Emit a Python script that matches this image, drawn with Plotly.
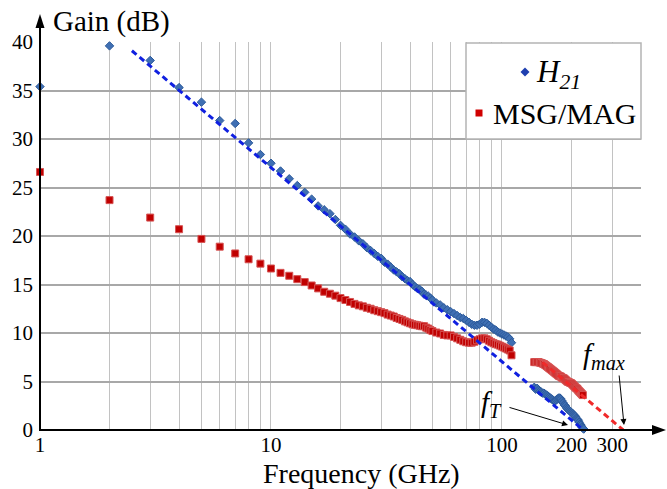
import math
import plotly.graph_objects as go

# ---- measured data -------------------------------------------------------
# Low-frequency sweep (GHz)
freq_low = list(range(1, 51)) + list(range(52, 111, 2))

h21_low = [35.4, 39.6, 38.1, 35.3, 33.8, 31.9, 31.6, 29.6, 28.4, 27.5,
           26.7, 25.9, 25.2, 24.5, 23.8, 23.1, 22.7, 22.3, 21.7, 21.1,
           20.7, 20.2, 19.9, 19.5, 19.2, 18.8, 18.5, 18.2, 17.9, 17.7,
           17.3, 17.1, 16.8, 16.5, 16.3, 16.1, 15.8, 15.6, 15.4, 15.3,
           15.0, 14.8, 14.6, 14.5, 14.3, 14.0, 13.9, 13.8, 13.6, 13.4,
           13.1, 12.9, 12.6, 12.4, 12.2, 12.0, 11.8, 11.6, 11.5, 11.3,
           11.1, 10.9, 10.8, 10.8, 10.9, 11.1, 11.1, 11.0, 10.8, 10.6,
           10.4, 10.3, 10.1, 10.0, 9.9, 9.8, 9.7, 9.6, 9.4, 9.0]

msg_low = [26.6, 23.7, 21.9, 20.7, 19.7, 18.9, 18.2, 17.6, 17.15, 16.65,
           16.2, 15.9, 15.55, 15.25, 14.9, 14.6, 14.25, 14.05, 13.85, 13.6,
           13.4, 13.2, 13.0, 12.85, 12.75, 12.6, 12.5, 12.35, 12.25, 12.15,
           12.05, 11.9, 11.8, 11.7, 11.55, 11.45, 11.35, 11.2, 11.1, 11.0,
           10.9, 10.85, 10.8, 10.75, 10.7, 10.7, 10.55, 10.45, 10.3, 10.2,
           10.05, 9.95, 9.8, 9.75, 9.75, 9.6, 9.45, 9.3, 9.15, 9.05,
           9.0, 9.0, 9.1, 9.25, 9.35, 9.45, 9.45, 9.35, 9.2, 9.05,
           8.95, 8.85, 8.8, 8.7, 8.6, 8.5, 8.4, 8.3, 8.2, 7.7]

# High-frequency sweep (GHz)
freq_high = list(range(138, 227, 2))

h21_high = [4.4, 4.2, 4.3, 4.1, 4.0, 3.9, 3.8, 3.8, 3.7, 3.6,
            3.5, 3.4, 3.3, 3.2, 3.1, 3.0, 3.0, 3.1, 3.2, 3.3,
            3.3, 3.2, 3.0, 2.8, 2.6, 2.5, 2.3, 2.2, 2.1, 2.0,
            1.9, 1.8, 1.7, 1.6, 1.5, 1.4, 1.2, 1.1, 1.0, 0.8,
            0.6, 0.5, 0.3, 0.2, 0.1]

msg_high = [7.0, 7.0, 7.0, 7.0, 6.95, 6.9, 6.85, 6.8, 6.7, 6.6,
            6.5, 6.4, 6.3, 6.2, 6.1, 6.0, 5.9, 5.8, 5.7, 5.6,
            5.55, 5.5, 5.4, 5.35, 5.3, 5.2, 5.1, 5.0, 4.95, 4.9,
            4.85, 4.8, 4.7, 4.6, 4.5, 4.4, 4.3, 4.25, 4.1, 4.0,
            3.9, 3.8, 3.7, 3.6]

# -20 dB/decade extrapolations to fT and fmax
h21_fit_f = [2.5, 225]
h21_fit_g = [39.1, 0.0]
msg_fit_f = [150, 335]
msg_fit_g = [6.98, 0.0]

x_tick_vals = [1, 10, 100, 200, 300]
x_tick_text = ["1", "10", "100", "200", "300"]
x_minor_vals = [2, 3, 4, 5, 6, 7, 8, 9, 20, 30, 40, 50, 60, 70, 80, 90, 400]

# ---- layout geometry -----------------------------------------------------
W, H = 667, 489
ML, MR, MT, MB = 40, 26, 42, 59
PW, PH = W - ML - MR, H - MT - MB


def px(x):
    return (x - ML) / PW


def py(y):
    return (H - MB - y) / PH


SERIF = "Liberation Serif, Times New Roman, serif"
BLUE_MK = "#3F6FB3"
BLUE_EDGE = "#2C5A9A"
RED_MK = "#C00000"
RED_EDGE = "#D65454"
VGRID = "#C2C2C2"
HGRID = "#A8A8A8"

fig = go.Figure()

fig.add_trace(go.Scatter(
    x=freq_low + freq_high, y=h21_low + h21_high, mode="markers",
    marker=dict(symbol="diamond", size=6.5, color=BLUE_MK,
                line=dict(color=BLUE_EDGE, width=1)),
    cliponaxis=False, showlegend=False))

fig.add_trace(go.Scatter(
    x=freq_low + freq_high, y=msg_low + msg_high, mode="markers",
    marker=dict(symbol="square", size=7, color=RED_MK,
                line=dict(color=RED_EDGE, width=1)),
    cliponaxis=False, showlegend=False))

fig.add_trace(go.Scatter(
    x=h21_fit_f, y=h21_fit_g, mode="lines",
    line=dict(color="#1020E0", width=3, dash="6px,4px"),
    showlegend=False))

fig.add_trace(go.Scatter(
    x=msg_fit_f, y=msg_fit_g, mode="lines",
    line=dict(color="#F02A2A", width=3, dash="6px,4px"),
    showlegend=False))

shapes = []
# legend box
shapes.append(dict(type="rect", xref="paper", yref="paper",
                   x0=px(466), x1=px(641), y0=py(139), y1=py(43),
                   fillcolor="white", line=dict(color="#B4B4B4", width=1.5),
                   layer="above"))
# legend glyphs
dx, dy = 525, 72
shapes.append(dict(type="path", xref="paper", yref="paper",
                   path=(f"M {px(dx)},{py(dy - 4.5)} L {px(dx + 4.5)},{py(dy)} "
                         f"L {px(dx)},{py(dy + 4.5)} L {px(dx - 4.5)},{py(dy)} Z"),
                   fillcolor="#1F3FB0", line=dict(width=0)))
sx, sy = 479, 113
shapes.append(dict(type="rect", xref="paper", yref="paper",
                   x0=px(sx - 3.5), x1=px(sx + 3.5),
                   y0=py(sy + 3.5), y1=py(sy - 3.5),
                   fillcolor="#D00000", line=dict(width=0)))
# axis lines with arrowheads
shapes.append(dict(type="line", xref="paper", yref="paper",
                   x0=px(40), x1=px(40), y0=py(431), y1=py(26),
                   line=dict(color="black", width=2)))
shapes.append(dict(type="path", xref="paper", yref="paper",
                   path=(f"M {px(40)},{py(14)} L {px(44.5)},{py(28)} "
                         f"L {px(35.5)},{py(28)} Z"),
                   fillcolor="black", line=dict(width=0)))
shapes.append(dict(type="line", xref="paper", yref="paper",
                   x0=px(39), x1=px(654), y0=py(430), y1=py(430),
                   line=dict(color="black", width=2)))
shapes.append(dict(type="path", xref="paper", yref="paper",
                   path=(f"M {px(666)},{py(430)} L {px(652)},{py(425)} "
                         f"L {px(652)},{py(435)} Z"),
                   fillcolor="black", line=dict(width=0)))

annotations = [
    dict(text="Gain (dB)", x=px(111), y=py(22), xref="paper", yref="paper",
         showarrow=False, font=dict(family=SERIF, size=29, color="black"),
         xanchor="center", yanchor="middle"),
    dict(text="Frequency (GHz)", x=px(361), y=py(473), xref="paper", yref="paper",
         showarrow=False, font=dict(family=SERIF, size=28, color="black"),
         xanchor="center", yanchor="middle"),
    dict(text="<i>H</i><sub><i>21</i></sub>", x=px(534), y=py(74),
         xref="paper", yref="paper", showarrow=False,
         font=dict(family=SERIF, size=31, color="black"),
         xanchor="left", yanchor="middle"),
    dict(text="MSG/MAG", x=px(491), y=py(113), xref="paper", yref="paper",
         showarrow=False, font=dict(family=SERIF, size=30, color="black"),
         xanchor="left", yanchor="middle"),
    dict(text="<i>f</i><sub><i>T</i></sub>", x=px(479), y=py(404),
         xref="paper", yref="paper", showarrow=False,
         font=dict(family=SERIF, size=29, color="black"),
         xanchor="left", yanchor="middle"),
    dict(text="<i>f</i><sub><i>max</i></sub>", x=px(581), y=py(356),
         xref="paper", yref="paper", showarrow=False,
         font=dict(family=SERIF, size=29, color="black"),
         xanchor="left", yanchor="middle"),
    # arrows pointing at fT and fmax
    dict(text="", x=px(568), y=py(425), xref="paper", yref="paper",
         ax=-60, ay=-18, showarrow=True, arrowhead=2, arrowsize=1.2,
         arrowwidth=1, arrowcolor="black"),
    dict(text="", x=px(624), y=py(425), xref="paper", yref="paper",
         ax=-5, ay=-51, showarrow=True, arrowhead=2, arrowsize=1.2,
         arrowwidth=1, arrowcolor="black"),
]

fig.update_layout(
    width=W, height=H,
    margin=dict(l=ML, r=MR, t=MT, b=MB, pad=0),
    paper_bgcolor="white", plot_bgcolor="white",
    showlegend=False,
    shapes=shapes, annotations=annotations,
    xaxis=dict(type="log", range=[0, math.log10(400)],
               tickvals=x_tick_vals, ticktext=x_tick_text,
               showgrid=True, gridcolor=VGRID, gridwidth=1.3,
               minor=dict(tickvals=x_minor_vals, showgrid=True,
                          gridcolor=VGRID, gridwidth=1.3),
               showline=False, zeroline=False, ticks="",
               ticklabelstandoff=0,
               tickfont=dict(family=SERIF, size=21, color="black")),
    yaxis=dict(range=[0, 40], dtick=5, tick0=0,
               showgrid=True, gridcolor=HGRID, gridwidth=1.8,
               showline=False, zeroline=False, ticks="",
               ticklabelstandoff=6,
               tickfont=dict(family=SERIF, size=21, color="black")),
)

fig.write_html("out.html")
